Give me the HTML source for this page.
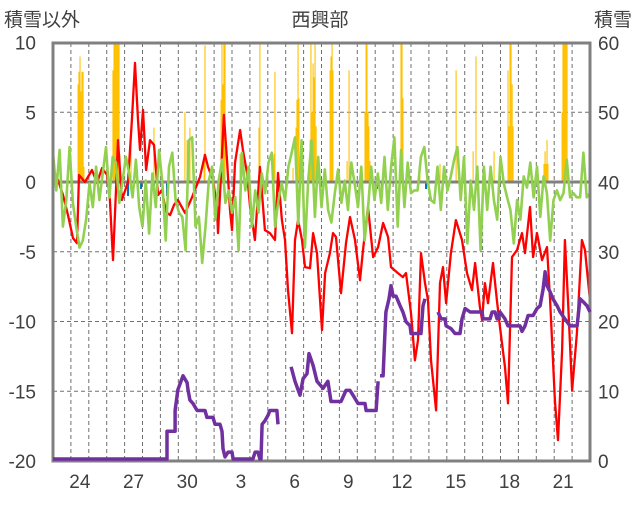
<!DOCTYPE html>
<html><head><meta charset="utf-8">
<style>
html,body{margin:0;padding:0;background:#fff;}
body{width:636px;height:501px;overflow:hidden;font-family:"Liberation Sans","Noto Sans CJK JP",sans-serif;}
svg text{font-family:"Liberation Sans","Noto Sans CJK JP",sans-serif;fill:#404040;}
</style></head>
<body>
<svg id="chart" width="636" height="501" viewBox="0 0 636 501" xmlns="http://www.w3.org/2000/svg">
  <text x="320" y="26" font-size="19" text-anchor="middle">西興部</text>
  <text x="4" y="26" font-size="19">積雪以外</text>
  <text x="632" y="26" font-size="19" text-anchor="end">積雪</text>
  <g id="grid"></g>
  <g id="plot"></g>
  <g id="axes"></g>
  <g id="snowg"></g>
</svg>
<script>
// ---- data ----
const xTickLabels = ["24","27","30","3","6","9","12","15","18","21"];
const xTickDays = [1,4,7,10,13,16,19,22,25,28];
const leftTicks = [10,5,0,-5,-10,-15,-20];
const rightTicks = [60,50,40,30,20,10,0];

const precipDays = [1.40,1.45,1.51,1.56,1.62,1.68,1.73,3.35,3.41,3.46,3.52,3.58,3.63,3.69,3.74,4.36,5.64,7.37,7.49,7.60,7.65,8.44,8.49,9.39,9.44,9.50,9.55,9.61,10.45,11.51,11.56,12.35,12.40,13.41,13.58,13.63,13.69,13.74,14.36,14.41,14.47,14.53,14.58,14.64,14.70,15.48,15.53,15.59,15.64,16.43,16.54,17.43,17.49,17.54,17.60,17.65,17.71,19.44,19.50,19.55,20.50,21.62,22.52,23.47,23.63,24.64,25.42,25.48,25.53,25.59,25.65,25.70,27.43,27.49,27.54,27.60,27.65,28.44,28.49,28.55,28.60,28.66,28.72];
const precipValues = [7.0,7.9,9.0,6.5,7.9,7.9,1.1,8,10,10,10,10,10,10,2,3.0,3.9,5,3,3,3.9,2,9.8,5.9,10,7,10,10,2,3.9,10,2,7.9,1,3.9,5.9,10,6,3,10,5,8.5,7.5,10,4,8,9,10,8,1.5,8,5,10,10,5,4,1.5,10,10,6,1.3,1.3,8,2.2,9,2.2,8,4,10,10,7,4,1.3,2.2,1.3,3,1.3,5,10,10,10,10,10];

const negDays = [4.19,4.92,5.64,6.37,12.79,18.10,18.38,20.84,22.74];
const negValues = [-1,-0.5,-0.5,-1,-0.5,-0.5,-0.5,-0.5,-0.5];

const redDays = [0,0.28,0.56,0.84,1.12,1.34,1.45,1.79,2.18,2.46,2.74,3.02,3.18,3.35,3.52,3.63,3.85,4.19,4.41,4.58,4.75,4.86,5.03,5.2,5.42,5.64,5.87,6.09,6.31,6.54,6.76,6.98,7.38,7.77,8.21,8.49,8.66,8.94,9.16,9.22,9.39,9.55,9.72,9.89,10.0,10.17,10.45,10.61,10.84,11.01,11.28,11.56,11.84,12.12,12.4,12.57,12.79,12.96,13.13,13.35,13.52,13.69,13.91,14.08,14.36,14.53,14.75,15.03,15.2,15.47,15.64,15.81,16.09,16.37,16.59,16.87,17.15,17.32,17.6,17.88,18.16,18.44,18.72,18.88,19.27,19.55,19.72,20.0,20.22,20.39,20.56,20.78,20.95,21.12,21.4,21.62,21.79,21.96,22.23,22.51,22.85,23.13,23.41,23.58,23.85,23.97,24.13,24.3,24.58,24.8,24.97,25.25,25.42,25.64,25.92,26.2,26.37,26.65,26.82,27.04,27.32,27.6,27.77,28.04,28.21,28.44,28.6,28.77,29.0,29.27,29.55,29.72,30.0];
const redValues = [0.86,0.14,-0.93,-2.37,-4.02,-4.38,0.5,0,0.86,-0.07,1.0,0.5,-1.29,-5.6,-0.57,3.0,-1.29,0,4.45,8.54,4.45,2.3,5.17,0.86,3.0,2.66,-0.93,-0.57,-2.15,-2.37,-1.65,-1.29,-2.23,-1.08,0.36,1.94,1.08,0.14,-1.79,-3.66,0.65,4.81,1.58,-2.01,-3.45,1.36,3.73,2.3,0.65,-1.79,-4.16,1.08,-3.45,-3.66,-4.16,0.65,-2.73,-4.16,-7.75,-10.84,-4.16,-2.73,-4.16,-6.1,-6.17,-3.66,-5.1,-10.62,-6.53,-5.1,-3.66,-3.95,-7.97,-4.38,-2.51,-4.16,-7.04,-4.88,-1.79,-5.38,-4.67,-2.94,-3.95,-6.1,-6.53,-6.82,-6.53,-9.4,-12.78,-11.34,-5.1,-7.25,-8.47,-12.78,-16.37,-7.25,-6.1,-8.69,-5.1,-2.73,-4.16,-6.53,-7.75,-5.81,-8.97,-9.9,-7.25,-8.69,-5.81,-8.47,-10.41,-13.28,-15.87,-5.38,-4.88,-3.66,-5.1,-1.79,-5.38,-3.66,-5.6,-4.67,-8.47,-15.65,-18.5,-12.06,-4.16,-8.47,-14.93,-10.84,-4.16,-4.88,-8.47];

// green series: evenly spaced over the 30-day span
const greenValues = [2.1,-0.6,2.3,-3.2,-1.3,2.5,-1.5,-3.2,-4.7,-4.2,-2.7,-0.1,-1.8,1.1,-1.3,0.6,2.5,-1.1,1.8,1.4,-1.5,0.1,1.8,0.6,-1.1,1.6,-1.8,-3.2,0.1,-3.7,0.6,-1.8,2.3,-0.1,-4.2,1.1,2.1,-1.3,-2.2,
-2.5,-4.9,3.0,3.2,-3.2,-2.5,-5.8,-3.2,0.1,1.1,-2.7,0.1,1.6,-1.5,-0.6,-2.2,-1.1,-4.9,2.1,-0.6,1.1,-3.2,-0.6,-2.2,0.6,-0.8,1.4,2.1,-3.2,-1.3,-0.1,-1.3,1.1,2.1,3.2,-3.0,3.0,-4.7,0.1,3.0,-2.5,1.8,
-1.8,0.9,-2.0,-2.9,-0.8,0.9,-1.5,0.1,-2.0,1.4,-0.1,-1.8,1.1,-4.2,-2.0,1.1,-1.3,0.6,-1.5,1.8,-2.0,1.1,3.2,-3.2,2.3,-1.8,1.4,-0.8,-0.6,-0.6,1.8,2.5,0.1,-1.3,-1.5,1.1,-2.0,1.1,-0.6,0.4,
1.6,2.5,-1.3,1.8,-4.4,0.1,-2.0,1.1,-4.9,1.1,-2.0,1.1,-1.3,-2.7,1.8,-0.1,-1.1,-2.0,-4.4,-1.3,-2.7,0.4,-0.4,1.4,-1.1,1.1,-2.5,0.4,-0.8,-4.2,-1.3,-0.6,-1.3,-0.8,1.6,-1.1,-0.8,-1.1,-1.1,2.1,-1.1,-0.8];

// snow depth (right axis); null = gap
const snowDays = [0,6.37,6.37,6.82,6.82,6.98,7.26,7.49,7.54,7.65,7.82,8.05,8.49,8.6,8.94,9.05,9.33,9.44,9.5,9.61,9.78,10.0,10.06,11.17,11.29,11.45,11.56,11.62,11.68,11.84,12.01,12.12,12.51,12.57,null,13.3,13.52,13.8,13.97,14.19,14.3,14.53,14.75,15.09,15.36,15.53,16.09,16.37,16.59,16.76,17.04,17.43,17.49,18.05,18.16,null,18.27,18.44,18.55,18.6,18.77,18.88,19.0,19.16,19.39,19.55,19.72,19.95,20.0,20.56,20.67,20.78,null,21.51,21.68,21.9,21.96,22.24,22.46,22.74,22.85,23.02,23.3,23.97,24.02,24.42,24.53,24.69,24.81,24.97,25.25,25.42,26.09,26.2,26.37,26.54,26.82,27.04,27.21,27.38,27.49,27.6,27.77,27.93,28.16,28.33,28.6,28.89,29.28,29.44,29.61,29.83,30.0];
const snowValues = [0,0,4,4,7,10,12,11,10,8.5,8,7,7,6,6,5,5,4,1.5,0.3,1,1,0,0,1,1,0,0,5,5.5,6.3,7,7,5,null,13.3,11.2,9.2,11.6,12.3,15.2,13.5,11.2,10.2,11.2,8.3,8.3,9.9,9.9,9.2,8,8,7,7,11.2,null,12,12,18.4,21.2,23.1,25,23.5,23.5,22.1,21.2,19.8,19.2,18.1,18.1,22.1,23.1,null,21.2,20.2,20.2,19.2,18.8,18.1,18.1,20.2,21.7,21.2,21.2,20.2,20.2,21.2,21.2,20.2,21.2,20.2,19.2,19.2,18.4,19.2,20.7,20.7,21.7,22.1,24.5,27,25,24.1,23.1,22.1,21.2,20.2,19.2,19.2,23.1,22.7,22.1,21.2];

// ---- scales ----
const X0=53, X1=590, Y0=43, Y1=461, DAYS=30;
const xS = d => X0 + d/DAYS*(X1-X0);
const yL = v => 182 - v*(461-182)/20;
const yR = v => (Y1-2) - v*(Y1-2-Y0)/60;
const NS='http://www.w3.org/2000/svg';
function mk(tag, attrs, parent){const e=document.createElementNS(NS,tag);for(const k in attrs)e.setAttribute(k,attrs[k]);parent.appendChild(e);return e;}
const grid=document.getElementById('grid'), plot=document.getElementById('plot'), axes=document.getElementById('axes'), snowg=document.getElementById('snowg');

// clip
const defs=mk('defs',{},document.getElementById('chart'));
const cp=mk('clipPath',{id:'clip'},defs);
mk('rect',{x:X0,y:Y0,width:X1-X0,height:Y1-Y0},cp);
plot.setAttribute('clip-path','url(#clip)');

// gridlines
for(let d=1; d<DAYS; d++){
  const l=mk('line',{x1:xS(d),x2:xS(d),y1:Y0,y2:Y1,stroke:'#707070','stroke-width':1,'stroke-dasharray':'4,3'},grid);
  
  
}
leftTicks.forEach(v=>{
  if(v===0||v===10||v===-20) return;
  const l=mk('line',{x1:X0,x2:X1,y1:yL(v),y2:yL(v),stroke:'#707070','stroke-width':1,'stroke-dasharray':'4,3'},grid);
  
  
});

// precipitation bars
const bw=1.1;
precipDays.forEach((d,i)=>{
  const v=Math.min(precipValues[i],10);
  const r=mk('rect',{x:xS(d)-bw/2,y:yL(v),width:bw,height:yL(0)-yL(v),fill:'#ffc000'},plot);
  
  
});
negDays.forEach((d,i)=>{
  const v=negValues[i];
  const r=mk('rect',{x:xS(d)-1,y:yL(0),width:2,height:yL(v)-yL(0),fill:'#0070c0'},plot);
  
  
});

// zero line
const zl=mk('line',{x1:X0,x2:X1,y1:yL(0),y2:yL(0),stroke:'#808080','stroke-width':3},plot);



function pathFrom(ds,vs,ys){
  let s='',pen=false;
  for(let i=0;i<ds.length;i++){
    if(ds[i]===null||vs[i]===null){pen=false;continue;}
    s+=(pen?'L':'M')+xS(ds[i]).toFixed(1)+','+ys(vs[i]).toFixed(1);
    pen=true;
  }
  return s;
}
const red=mk('path',{d:pathFrom(redDays,redValues,yL),fill:'none',stroke:'#ff0000','stroke-width':2.3,'stroke-linejoin':'round'},plot);



const gDays=greenValues.map((v,i)=>i*DAYS/(greenValues.length-1));
const green=mk('path',{d:pathFrom(gDays,greenValues,yL),fill:'none',stroke:'#92d050','stroke-width':2.6,'stroke-linejoin':'round'},plot);



// frame
const fr=mk('rect',{x:X0,y:Y0,width:X1-X0,height:Y1-Y0,fill:'none',stroke:'#808080','stroke-width':3},axes);



const snow=mk('path',{d:pathFrom(snowDays,snowValues,yR),fill:'none',stroke:'#7030a0','stroke-width':3.5,'stroke-linejoin':'round'},snowg);



// tick labels
leftTicks.forEach(v=>{
  const t=mk('text',{x:36,y:yL(v)+7,'font-size':19,'text-anchor':'end'},axes);
  t.textContent=String(v);
  
  
});
rightTicks.forEach(v=>{
  const t=mk('text',{x:598,y:(Y1 - v*(Y1-Y0)/60)+7,'font-size':19},axes);
  t.textContent=String(v);
  
  
});
xTickLabels.forEach((s,i)=>{
  const t=mk('text',{x:xS(xTickDays[i]+0.5),y:488,'font-size':19,'text-anchor':'middle'},axes);
  t.textContent=s;
  
  
});
</script>
</body></html>
